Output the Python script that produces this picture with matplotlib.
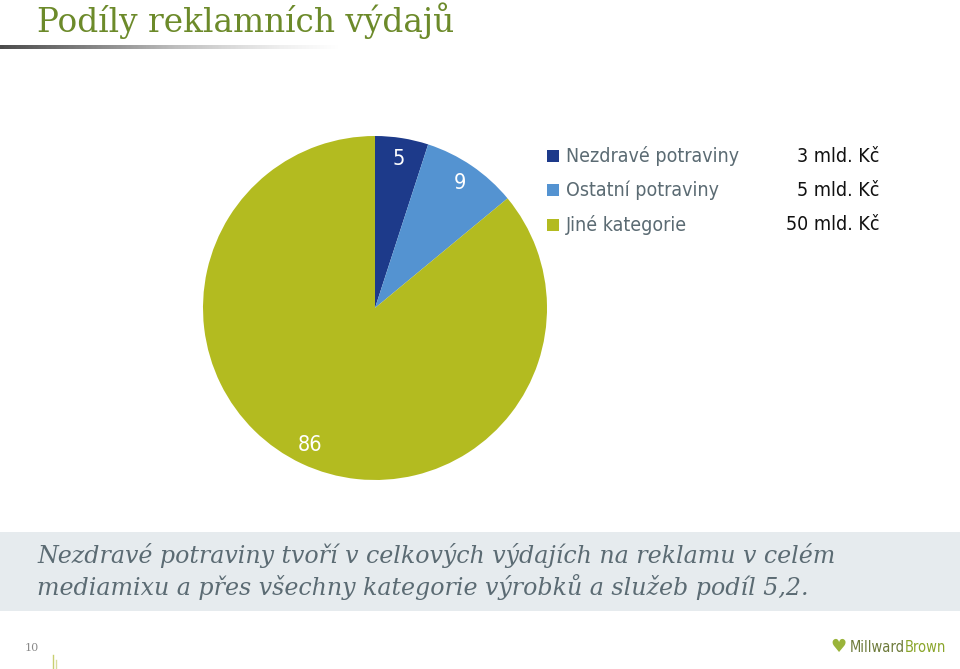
import numpy as np
import matplotlib.pyplot as plt
import matplotlib.patches as patches

W, H = 960, 669
fig = plt.figure(figsize=(W / 100, H / 100), dpi=100)
fig.patch.set_facecolor('white')

categories = ["Nezdravé potraviny", "Ostatní potraviny", "Jiné kategorie"]
shares = [5, 9, 86]
spend_labels = ["3 mld. Kč", "5 mld. Kč", "50 mld. Kč"]
colors = ['#1d3a8a', '#5493d1', '#b3bb20']

c_title = '#6c8a2a'
c_text = '#5b6b73'
c_band = '#e6ebee'

narrow = dict(family='DejaVu Sans', stretch='condensed')


def px(x, y):
    return x / W, 1 - y / H


# background overlay axes in pixel coords
bg = fig.add_axes([0, 0, 1, 1])
bg.axis('off')

# title + gradient rule
bg.text(37, 21, "Podíly reklamních výdajů", fontsize=23.6, color=c_title,
        family='DejaVu Serif', va='center', ha='left')
grad = np.linspace(0, 1, 256).reshape(1, -1)
bg.imshow(grad, extent=(0, 340, 49, 45), cmap='Greys_r', vmin=-0.3, vmax=1.0,
          aspect='auto', zorder=1)
bg.set_xlim(0, W)
bg.set_ylim(H, 0)

# caption band
bg.add_patch(patches.Rectangle((0, 532), W, 79, facecolor=c_band, edgecolor='none'))
bg.text(37, 555, "Nezdravé potraviny tvoří v celkových výdajích na reklamu v celém",
        fontsize=17.1, style='italic', family='DejaVu Serif', color=c_text, va='center')
bg.text(37, 587, "mediamixu a přes všechny kategorie výrobků a služeb podíl 5,2.",
        fontsize=17.1, style='italic', family='DejaVu Serif', color=c_text, va='center')

# footer
bg.text(25, 648, "10", fontsize=8, family='DejaVu Serif', color='#8a8a8a', va='center')
bg.plot([53, 53], [655, 669], color='#c8cf70', lw=1)
bg.plot([56, 56], [660, 669], color='#d8dc9a', lw=1)
bg.text(905, 647, "Millward", fontsize=10.5, color='#6d7a3a', va='center', ha='right', **narrow)
bg.text(905, 647, "Brown", fontsize=10.5, color='#8aa52a', va='center', ha='left', **narrow)
bg.text(838, 647, "♥", fontsize=13, color='#9ab43a', va='center', ha='center')

# legend
leg_y = [156, 190, 225]
for cat, val, col, y in zip(categories, spend_labels, colors, leg_y):
    bg.add_patch(patches.Rectangle((547, y - 6), 12, 12, facecolor=col, edgecolor='none'))
    bg.text(566, y, cat, fontsize=14, color=c_text, va='center', **narrow)
    bg.text(879, y, val, fontsize=14, color='#111111', va='center', ha='right', **narrow)

# pie
cx, cy, r = 375, 308, 172
x0, y0 = px(cx - r, cy + r)
ax = fig.add_axes([x0, y0, 2 * r / W, 2 * r / H])
wedges, texts = ax.pie(shares, colors=colors, startangle=90, counterclock=False,
                       labels=[str(s) for s in shares], labeldistance=0.88,
                       wedgeprops=dict(linewidth=0))
for t in texts:
    t.set_color('white')
    t.set_fontsize(15.5)
    t.set_stretch('condensed')
    t.set_ha('center')
    t.set_va('center')
ax.set_xlim(-1, 1)
ax.set_ylim(-1, 1)
ax.set_aspect('equal')

fig.savefig('out.png', dpi=100)
